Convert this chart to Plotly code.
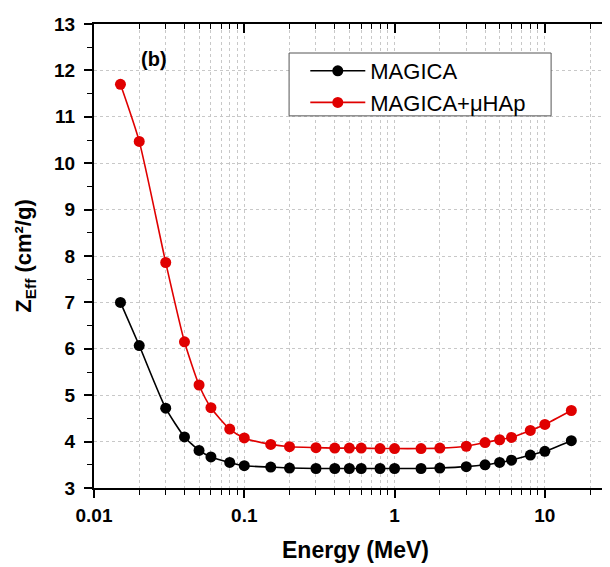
import plotly.graph_objects as go

energy = [0.015, 0.02, 0.03, 0.04, 0.05, 0.06, 0.08, 0.1, 0.15, 0.2, 0.3, 0.4, 0.5,
          0.6, 0.8, 1, 1.5, 2, 3, 4, 5, 6, 8, 10, 15]
magica = [7.00, 6.07, 4.72, 4.10, 3.81, 3.67, 3.55, 3.48, 3.45, 3.43, 3.42, 3.42, 3.42,
          3.42, 3.42, 3.42, 3.42, 3.43, 3.46, 3.50, 3.55, 3.60, 3.71, 3.79, 4.02]
magica_hap = [11.70, 10.47, 7.86, 6.15, 5.22, 4.73, 4.27, 4.08, 3.94, 3.89, 3.87, 3.86, 3.86,
              3.86, 3.85, 3.85, 3.85, 3.86, 3.90, 3.98, 4.04, 4.09, 4.24, 4.37, 4.67]

x_major = [0.01, 0.1, 1, 10]
x_major_text = ["0.01", "0.1", "1", "10"]
x_minor = [m * d for d in [0.01, 0.1, 1, 10] for m in range(2, 10)]
y_ticks = [3, 4, 5, 6, 7, 8, 9, 10, 11, 12, 13]

FONT = "Liberation Sans, Arial, sans-serif"
GRID = "#c8c8c8"
xrange = [-2, 1.48]
yrange = [3, 13]

fig = go.Figure()
fig.add_trace(go.Scatter(
    x=energy, y=magica, name="MAGICA", mode="lines+markers",
    line=dict(color="black", width=1.6, shape="spline", smoothing=0.6),
    marker=dict(color="black", size=11)))
fig.add_trace(go.Scatter(
    x=energy, y=magica_hap, name="MAGICA+μHAp", mode="lines+markers",
    line=dict(color="#e00000", width=1.6, shape="spline", smoothing=0.6),
    marker=dict(color="#e00000", size=11)))
# invisible trace anchoring the top / right axes
fig.add_trace(go.Scatter(x=energy, y=magica, xaxis="x2", yaxis="y2", mode="markers",
                         marker=dict(opacity=0), showlegend=False, hoverinfo="skip"))

fig.update_layout(
    width=610, height=567,
    margin=dict(l=86, r=1, t=16, b=87, autoexpand=False),
    paper_bgcolor="white", plot_bgcolor="white",
    font=dict(family=FONT, color="black"),
    showlegend=True,
    legend=dict(x=0.404, y=0.944, xanchor="left", yanchor="top",
                borderwidth=0, bgcolor="rgba(0,0,0,0)",
                font=dict(family=FONT, size=22, color="black"),
                itemwidth=55, tracegroupgap=0),
    shapes=[dict(type="rect", xref="paper", yref="paper",
                 x0=0.373, x1=0.874, y0=0.802, y1=0.9375,
                 line=dict(color="#555555", width=1), fillcolor="white", layer="above")],
    xaxis=dict(
        type="log", range=xrange, automargin=False,
        tickvals=x_major, ticktext=x_major_text,
        ticks="outside", ticklen=8, tickwidth=1.5, tickcolor="black",
        ticklabelstandoff=1,
        tickfont=dict(family=FONT, size=19, weight="bold"),
        showline=True, linecolor="black", linewidth=2,
        showgrid=True, gridcolor=GRID, griddash="dot", gridwidth=1,
        minor=dict(tickvals=x_minor, ticks="outside", ticklen=5, tickwidth=1.2,
                   tickcolor="black", showgrid=True, gridcolor=GRID,
                   griddash="dot", gridwidth=1),
        title=dict(text="Energy (MeV)", standoff=17,
                   font=dict(family=FONT, size=23, weight="bold")),
        zeroline=False),
    xaxis2=dict(
        type="log", range=xrange, overlaying="x", side="top", automargin=False,
        tickvals=x_major, ticks="inside", ticklen=9, tickwidth=1.5, tickcolor="black",
        showticklabels=False, showline=True, linecolor="black", linewidth=2,
        showgrid=False,
        minor=dict(tickvals=x_minor, ticks="inside", ticklen=5, tickwidth=1.2,
                   tickcolor="black", showgrid=False)),
    yaxis=dict(
        range=yrange, tickvals=y_ticks, automargin=False,
        ticks="outside", ticklen=8, tickwidth=1.5, tickcolor="black",
        ticklabelstandoff=5,
        tickfont=dict(family=FONT, size=19, weight="bold"),
        showline=True, linecolor="black", linewidth=2,
        showgrid=True, gridcolor=GRID, griddash="dot", gridwidth=1,
        minor=dict(dtick=0.5, ticks="outside", ticklen=5, tickwidth=1.2,
                   tickcolor="black", showgrid=False),
        title=dict(text="Z<sub>Eff</sub> (cm²/g)", standoff=16,
                   font=dict(family=FONT, size=22, weight="bold")),
        zeroline=False),
    yaxis2=dict(
        range=yrange, overlaying="y", side="right", automargin=False,
        tickvals=y_ticks, ticks="inside", ticklen=8, tickwidth=1.5, tickcolor="black",
        showticklabels=False, showline=True, linecolor="black", linewidth=2,
        showgrid=False, zeroline=False,
        minor=dict(dtick=0.5, ticks="inside", ticklen=5, tickwidth=1.2,
                   tickcolor="black", showgrid=False)),
    annotations=[dict(text="(b)", xref="paper", yref="paper", x=0.115, y=0.9246,
                      xanchor="center", yanchor="middle",
                      showarrow=False, font=dict(family=FONT, size=20, weight="bold"))],
)

fig.write_html("out.html")
